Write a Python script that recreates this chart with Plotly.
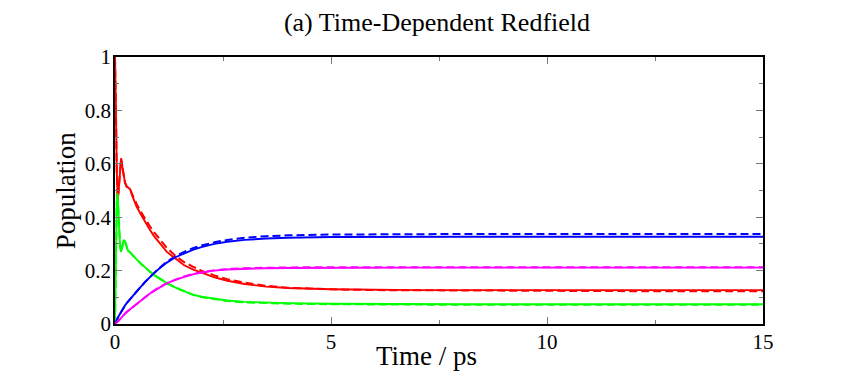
import plotly.graph_objects as go

# Tempo (ps)
TEMPO = [0, 0.01, 0.02, 0.04, 0.06, 0.08, 0.1, 0.12, 0.14, 0.17, 0.2, 0.23, 0.27, 0.3,
         0.35, 0.4, 0.45, 0.5, 0.6, 0.7, 0.8, 0.9, 1.0, 1.2, 1.4, 1.6, 1.8, 2.0, 2.3,
         2.6, 3.0, 3.5, 4.0, 5, 6, 7, 8, 10, 12, 15]

# Populacoes - linha cheia (Time-Dependent Redfield)
VERMELHO = [1.0, 0.95, 0.82, 0.58, 0.47, 0.49, 0.55, 0.60, 0.62, 0.59, 0.55, 0.53, 0.515, 0.51,
            0.505, 0.48, 0.46, 0.44, 0.41, 0.38, 0.355, 0.33, 0.31, 0.27, 0.245, 0.22, 0.205,
            0.193, 0.175, 0.162, 0.15, 0.14, 0.135, 0.13, 0.128, 0.127, 0.127, 0.127, 0.127, 0.127]
VERDE = [0, 0.1, 0.3, 0.45, 0.49, 0.44, 0.35, 0.29, 0.27, 0.29, 0.315, 0.31, 0.285, 0.275,
         0.268, 0.258, 0.25, 0.242, 0.226, 0.21, 0.197, 0.184, 0.173, 0.153, 0.136, 0.122, 0.11,
         0.102, 0.094, 0.088, 0.083, 0.08, 0.078, 0.076, 0.075, 0.075, 0.074, 0.074, 0.074, 0.074]
AZUL = [0, 0.005, 0.01, 0.016, 0.022, 0.028, 0.034, 0.04, 0.046, 0.054, 0.062, 0.069, 0.078, 0.084,
        0.094, 0.104, 0.113, 0.122, 0.14, 0.158, 0.175, 0.19, 0.204, 0.23, 0.25, 0.265, 0.278,
        0.288, 0.3, 0.308, 0.315, 0.32, 0.323, 0.326, 0.327, 0.327, 0.327, 0.327, 0.327, 0.327]
MAGENTA = [0, 0.001, 0.003, 0.006, 0.009, 0.012, 0.016, 0.02, 0.024, 0.029, 0.034, 0.039, 0.045, 0.049,
           0.056, 0.063, 0.07, 0.076, 0.089, 0.101, 0.113, 0.124, 0.134, 0.152, 0.166, 0.177, 0.186,
           0.193, 0.2, 0.204, 0.207, 0.209, 0.21, 0.211, 0.211, 0.211, 0.211, 0.211, 0.211, 0.211]

# Populacoes - linha tracejada (referencia)
VERMELHO_T = [1.0, 0.95, 0.82, 0.58, 0.47, 0.49, 0.55, 0.60, 0.62, 0.59, 0.55, 0.53, 0.515, 0.51,
              0.505, 0.485, 0.465, 0.45, 0.42, 0.392, 0.368, 0.345, 0.325, 0.285, 0.255, 0.232, 0.215,
              0.2, 0.182, 0.168, 0.155, 0.143, 0.136, 0.13, 0.127, 0.126, 0.125, 0.124, 0.123, 0.123]
VERDE_T = [0, 0.1, 0.3, 0.45, 0.49, 0.44, 0.35, 0.29, 0.27, 0.29, 0.315, 0.31, 0.285, 0.275,
           0.268, 0.258, 0.25, 0.242, 0.226, 0.21, 0.197, 0.184, 0.173, 0.153, 0.136, 0.122, 0.11,
           0.101, 0.093, 0.086, 0.081, 0.078, 0.076, 0.074, 0.073, 0.072, 0.072, 0.072, 0.072, 0.072]
AZUL_T = [0, 0.005, 0.01, 0.016, 0.022, 0.028, 0.034, 0.04, 0.046, 0.054, 0.062, 0.069, 0.078, 0.084,
          0.094, 0.104, 0.113, 0.122, 0.14, 0.158, 0.175, 0.19, 0.206, 0.233, 0.254, 0.27, 0.284,
          0.294, 0.306, 0.315, 0.323, 0.329, 0.332, 0.335, 0.336, 0.337, 0.337, 0.337, 0.337, 0.337]
MAGENTA_T = [0, 0.001, 0.003, 0.006, 0.009, 0.012, 0.016, 0.02, 0.024, 0.029, 0.034, 0.039, 0.045, 0.049,
             0.056, 0.063, 0.07, 0.076, 0.089, 0.101, 0.113, 0.124, 0.135, 0.153, 0.167, 0.178, 0.187,
             0.194, 0.201, 0.206, 0.209, 0.211, 0.212, 0.213, 0.213, 0.213, 0.213, 0.213, 0.213, 0.213]

fig = go.Figure()

# Tracejadas primeiro, cheias por cima
for serie, cor in [(VERMELHO_T, '#ff0000'), (VERDE_T, '#00ff00'), (AZUL_T, '#0000ff'), (MAGENTA_T, '#ff00ff')]:
    fig.add_trace(go.Scatter(x=TEMPO, y=serie, mode='lines',
                             line=dict(color=cor, width=2, dash='8px,4px')))

for serie, cor in [(VERMELHO, '#ff0000'), (VERDE, '#00ff00'), (AZUL, '#0000ff'), (MAGENTA, '#ff00ff')]:
    fig.add_trace(go.Scatter(x=TEMPO, y=serie, mode='lines',
                             line=dict(color=cor, width=1.9)))

FONTE = 'Liberation Serif'

eixo = dict(
    showgrid=False, zeroline=False, automargin=False,
    showline=True, linecolor='black', linewidth=1.5, mirror='allticks',
    ticks='inside', ticklen=7, tickcolor='#777777', tickwidth=1,
    tickfont=dict(family=FONTE, size=21, color='black'),
)

# a pagina tem margem de 8px no body, por isso 833x374
fig.update_layout(
    width=833, height=374,
    margin=dict(l=107, r=78, t=49, b=58),
    plot_bgcolor='white', paper_bgcolor='white',
    showlegend=False,
    title=dict(text='(a) Time-Dependent Redfield', x=0.515, xanchor='center',
               y=0.9626, yanchor='middle',
               font=dict(family=FONTE, size=26, color='black')),
    xaxis=dict(eixo, range=[0, 15], dtick=5, tick0=0, ticklabelstandoff=-2,
               minor=dict(dtick=2.5, ticks='inside', ticklen=4, tickcolor='#777777')),
    yaxis=dict(eixo, range=[0, 1], dtick=0.2, tick0=0, ticklabelstandoff=-2,
               minor=dict(dtick=0.1, ticks='inside', ticklen=4, tickcolor='#777777')),
)

# Titulos dos eixos
fig.add_annotation(text='Time / ps', xref='paper', yref='paper', x=0.48, y=-0.118,
                   xanchor='center', yanchor='middle', showarrow=False,
                   font=dict(family=FONTE, size=27, color='black'))
fig.add_annotation(text='Population', xref='paper', yref='paper', x=-0.076, y=0.5,
                   xanchor='center', yanchor='middle', textangle=-90, showarrow=False,
                   font=dict(family=FONTE, size=27, color='black'))

fig.write_html('out.html')
